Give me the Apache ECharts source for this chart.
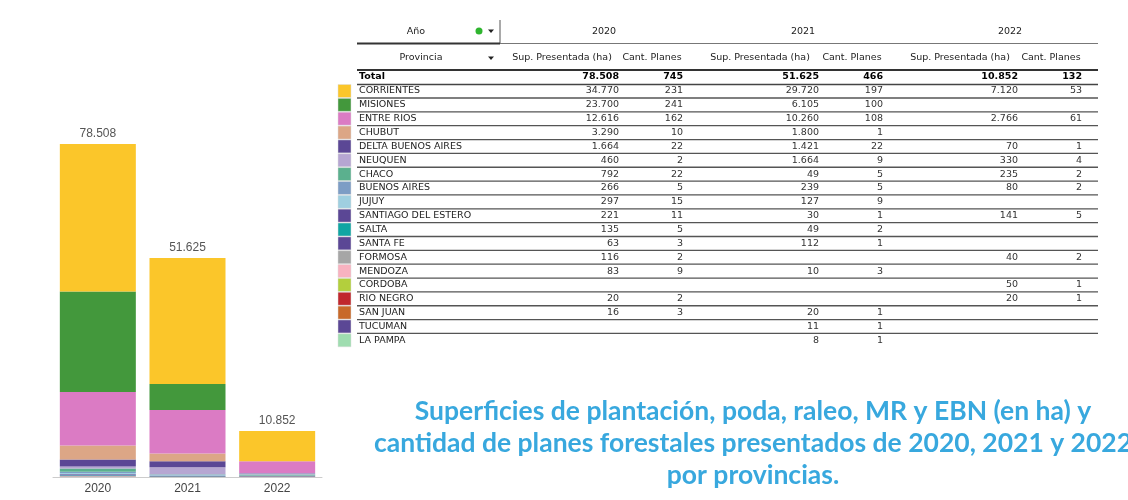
<!DOCTYPE html>
<html><head><meta charset="utf-8">
<script src="https://cdn.jsdelivr.net/npm/echarts@6/dist/echarts.min.js"></script>
<style>html,body{margin:0;padding:0;background:#fff}#c{width:1128px;height:500px}</style>
</head><body><div id="c"></div>
<script>
const years = ['2020', '2021', '2022'];
const provincias = ['CORRIENTES','MISIONES','ENTRE RIOS','CHUBUT','DELTA BUENOS AIRES','NEUQUEN','CHACO','BUENOS AIRES','JUJUY','SANTIAGO DEL ESTERO','SALTA','SANTA FE','FORMOSA','MENDOZA','CORDOBA','RIO NEGRO','SAN JUAN','TUCUMAN','LA PAMPA'];
const colores = ['#FBC62A','#43983C','#DB7BC4','#DCA686','#5B4795','#B6A6D2','#5BB08E','#7D9DC5','#9FCFE0','#5B4795','#10A5A3','#5B4795','#A6A6A6','#F8B2C0','#B3CF3D','#C0272D','#C8692A','#5B4795','#9FDDB0'];
const sup2020 = [34770,23700,12616,3290,1664,460,792,266,297,221,135,63,116,83,null,20,16,null,null];
const cant2020 = [231,241,162,10,22,2,22,5,15,11,5,3,2,9,null,2,3,null,null];
const sup2021 = [29720,6105,10260,1800,1421,1664,49,239,127,30,49,112,null,10,null,null,20,11,8];
const cant2021 = [197,100,108,1,22,9,5,5,9,1,2,1,null,3,null,null,1,1,1];
const sup2022 = [7120,null,2766,null,70,330,235,80,null,141,null,null,40,null,50,20,null,null,null];
const cant2022 = [53,null,61,null,1,4,2,2,null,5,null,null,2,null,1,1,null,null,null];
const totalSup = [78508, 51625, 10852];
const totalCant = [745, 466, 132];
const colHeaders = ['Sup. Presentada (ha)', 'Cant. Planes'];
const tituloLineas = ['Superficies de plantación, poda, raleo, MR y EBN (en ha) y', 'cantidad de planes forestales presentados de 2020, 2021 y 2022', 'por provincias.'];

function fmt(n) {
  if (n === null || n === undefined) return '';
  return String(n).replace(/\B(?=(\d{3})+(?!\d))/g, '.');
}

const supByYear = [sup2020, sup2021, sup2022];
const cantByYear = [cant2020, cant2021, cant2022];

// stacked bars: last province at bottom, CORRIENTES on top (carries the total label)
const series = [];
for (let i = provincias.length - 1; i >= 0; i--) {
  const s = {
    name: provincias[i], type: 'bar', stack: 's', barWidth: 76,
    itemStyle: { color: colores[i] },
    data: supByYear.map(a => a[i] === null ? 0 : a[i])
  };
  if (i === 0) {
    s.label = { show: true, position: 'top', distance: 4, color: '#555', fontSize: 12, fontFamily: 'Liberation Sans',
      formatter: p => fmt(totalSup[p.dataIndex]) };
  }
  series.push(s);
}

// table graphics
const F = '9.5px "DejaVu Sans"';
const FB = 'bold 9.5px "DejaVu Sans"';
const TX0 = 357, TX1 = 1098;
const rowY0 = 91, rowH = 13.85;
const supRight = [619, 819, 1018];
const cantRight = [683, 883, 1082];
const supCenter = [562, 760, 960];
const cantCenter = [652, 852, 1051];
const yearCenter = [604, 803, 1010];
const g = [];
function txt(x, y, t, font, align, color) {
  g.push({ type: 'text', x: 0, y: 0, silent: true, style: { text: t, x: x, y: y, font: font, fill: color || '#222', textAlign: align, align: align, textVerticalAlign: 'middle', verticalAlign: 'middle' } });
}
function hline(y, x0, x1, w, c) {
  g.push({ type: 'line', silent: true, shape: { x1: x0, y1: y, x2: x1, y2: y }, style: { stroke: c, lineWidth: w } });
}
// header
txt(416, 32, 'Año', F, 'center');
g.push({ type: 'circle', silent: true, shape: { cx: 479, cy: 31, r: 3.5 }, style: { fill: '#2fb52f' } });
g.push({ type: 'polygon', silent: true, shape: { points: [[488, 29.5], [494, 29.5], [491, 33]] }, style: { fill: '#222' } });
g.push({ type: 'line', silent: true, shape: { x1: 500, y1: 20, x2: 500, y2: 44 }, style: { stroke: '#555', lineWidth: 1 } });
hline(43.5, TX0, 500, 2, '#333');
hline(43.5, 500, TX1, 1, '#777');
years.forEach((yr, k) => {
  txt(yearCenter[k], 32, yr, F, 'center');
  txt(supCenter[k], 58, colHeaders[0], F, 'center');
  txt(cantCenter[k], 58, colHeaders[1], F, 'center');
});
txt(421, 58, 'Provincia', F, 'center');
g.push({ type: 'polygon', silent: true, shape: { points: [[488, 56.5], [494, 56.5], [491, 60]] }, style: { fill: '#222' } });
hline(70, TX0, TX1, 2, '#333');
// total row
txt(359, 77, 'Total', FB, 'left', '#000');
years.forEach((yr, k) => {
  txt(supRight[k], 77, fmt(totalSup[k]), FB, 'right', '#000');
  txt(cantRight[k], 77, fmt(totalCant[k]), FB, 'right', '#000');
});
hline(84.5, TX0, TX1, 1.5, '#444');
provincias.forEach((p, i) => {
  const y = rowY0 + i * rowH;
  g.push({ type: 'rect', silent: true, shape: { x: 338, y: y - 6.5, width: 13, height: 13 }, style: { fill: colores[i], stroke: '#ddd', lineWidth: 0.5 } });
  txt(359, y, p, F, 'left');
  years.forEach((yr, k) => {
    txt(supRight[k], y, fmt(supByYear[k][i]), F, 'right', '#333');
    txt(cantRight[k], y, fmt(cantByYear[k][i]), F, 'right', '#333');
  });
  if (i < provincias.length - 1) hline(y + 7, TX0, TX1, 1.3, '#555');
});

const chart = echarts.init(document.getElementById('c'), null, { renderer: 'canvas' });
chart.setOption({
  animation: false,
  backgroundColor: '#fff',
  title: {
    text: tituloLineas.join('\n'), left: 748, top: 390, textAlign: 'center',
    textStyle: { fontFamily: 'Lato', fontWeight: 'bold', fontSize: 26.5, lineHeight: 32, color: '#38A8DE' }
  },
  grid: { left: 53, right: 806, top: 144, bottom: 23 },
  xAxis: {
    type: 'category', data: years,
    axisLine: { lineStyle: { color: '#ccc' } }, axisTick: { show: false },
    axisLabel: { color: '#444', fontSize: 12, fontFamily: 'Liberation Sans', margin: 6 }
  },
  yAxis: { type: 'value', min: 0, max: totalSup[0], show: false, splitLine: { show: false } },
  series: series,
  graphic: g
});
</script></body></html>
